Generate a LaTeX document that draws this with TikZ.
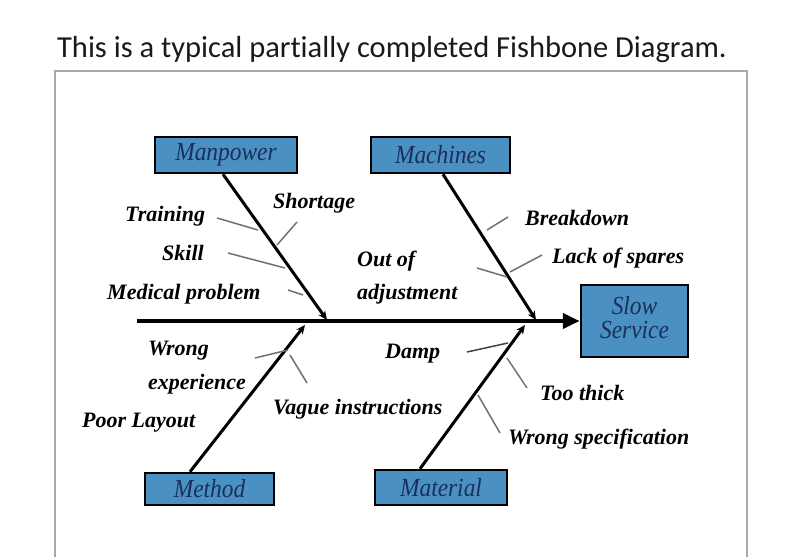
\documentclass[tikz,border=0pt]{standalone}
\usepackage{fontspec}
\usepackage{graphicx}
\setmainfont{Liberation Serif}
\newfontfamily\titlefont[Ligatures=NoCommon]{Carlito}
\newcommand\scrfont{\fontsize{22}{24}\selectfont\bfseries\itshape}
\newcommand\catfont{\fontsize{26}{27}\selectfont\itshape}
\newcommand\hs[1]{\scalebox{0.9}[1]{#1}}
\usetikzlibrary{arrows.meta}
\definecolor{boxblue}{HTML}{4A90C2}
\definecolor{navy}{HTML}{1B2F5B}
\definecolor{twiggray}{HTML}{707070}
\definecolor{framegray}{HTML}{A8A8A8}
\definecolor{titleblack}{HTML}{1A1A1A}
\begin{document}
\begin{tikzpicture}[x=1pt,y=-1pt,
  cat/.style={draw=black, line width=2.5pt, fill=boxblue, font=\catfont, text=navy, inner sep=0pt},
  bone/.style={line width=3pt, -{Stealth[length=9pt,width=8pt]}},
  twig/.style={draw=twiggray, line width=1.5pt},
  lbl/.style={anchor=west, inner sep=0pt, font=\scrfont, text=black}]
\useasboundingbox (0,0) rectangle (796,557);
\fill[white] (0,0) rectangle (796,557);
\node[anchor=base, font=\titlefont\fontsize{30.5}{32}\selectfont, text=titleblack, inner sep=0pt] (title) at (392,57) {This is a typical partially completed Fishbone Diagram.};
\draw[framegray, line width=2pt] (55,557) -- (55,71) -- (747,71) -- (747,557);

% category boxes
\node[cat, minimum width=142pt, minimum height=36pt] (manpower) at (226,155) {\hs{Manpower}};
\node[cat, minimum width=139pt, minimum height=36pt] (machines) at (440.5,155) {\hs{Machines}};
\node[cat, minimum width=107pt, minimum height=72pt] (slow) at (634.5,321) {\hs{\begin{tabular}{@{}c@{}}Slow\\[-3pt]Service\end{tabular}}};
\node[cat, minimum width=129pt, minimum height=32pt] (method) at (209.5,489) {\hs{Method}};
\node[cat, minimum width=132pt, minimum height=35pt] (material) at (441,487.5) {\hs{Material}};

% spine
\coordinate (tail) at (137,321);
\draw[line width=4.5pt, -{Triangle[length=17pt,width=15pt]}] (tail) -- (slow.west);

% bones
\coordinate (mpTip) at (327,320);
\coordinate (maTip) at (536,320);
\coordinate (meTip) at (305,325);
\coordinate (mtTip) at (525,325);
\draw[bone] ([xshift=-3pt]manpower.south) -- (mpTip);
\draw[bone] ([xshift=2.5pt]machines.south) -- (maTip);
\draw[bone] ([xshift=-19.5pt]method.north) -- (meTip);
\draw[bone] ([xshift=-21pt]material.north) -- (mtTip);

% twigs
\coordinate (t1a) at (217,218); \coordinate (t1b) at (258,230);
\coordinate (t2a) at (297,222); \coordinate (t2b) at (277,245);
\coordinate (t3a) at (228,253); \coordinate (t3b) at (285,268);
\coordinate (t4a) at (288,290); \coordinate (t4b) at (303,295);
\coordinate (t5a) at (508,217); \coordinate (t5b) at (487,230);
\coordinate (t6a) at (542,255); \coordinate (t6b) at (510,272);
\coordinate (t7a) at (477,268); \coordinate (t7b) at (507,277);
\coordinate (t8a) at (255,358); \coordinate (t8b) at (288,350);
\coordinate (t9a) at (307,383); \coordinate (t9b) at (290,355);
\coordinate (t10a) at (467,352); \coordinate (t10b) at (508,343);
\coordinate (t11a) at (527,388); \coordinate (t11b) at (507,358);
\coordinate (t12a) at (500,433); \coordinate (t12b) at (478,395);
\foreach \i in {1,...,9,11,12} {\draw[twig] (t\i a) -- (t\i b);}
\draw[twig, draw=black!75] (t10a) -- (t10b);

% labels
\node[lbl] (training) at (125,216) {Training};
\node[lbl] (shortage) at (273,203) {Shortage};
\node[lbl] (skill) at (162,253) {Skill};
\node[lbl] (medical) at (107,294) {Medical problem};
\node[lbl] (breakdown) at (525,218) {Breakdown};
\node[lbl] (lack) at (552,258) {Lack of spares};
\node[lbl] (outof) at (357,261) {Out of};
\node[lbl] (adjust) at (357,294) {adjustment};
\node[lbl] (wrong) at (148,351) {Wrong};
\node[lbl] (experience) at (148,384) {experience};
\node[lbl] (vague) at (273,409) {Vague instructions};
\node[lbl] (poor) at (82,423) {Poor Layout};
\node[lbl] (damp) at (385,354) {Damp};
\node[lbl] (thick) at (540,393) {Too thick};
\node[lbl] (wrongspec) at (508,439) {Wrong specification};
\end{tikzpicture}
\end{document}
